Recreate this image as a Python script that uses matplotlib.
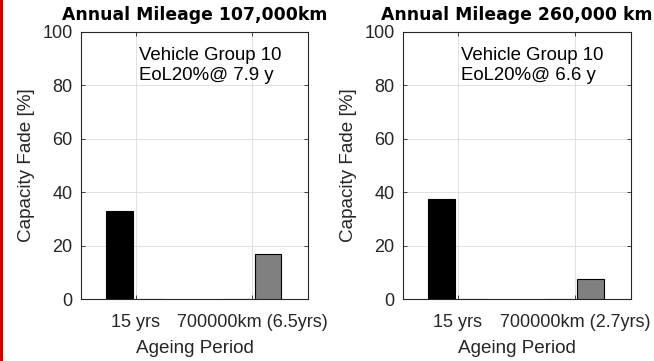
import matplotlib
matplotlib.use('Agg')
import matplotlib.pyplot as plt
from matplotlib.patches import Rectangle

# ---- data ----
titles = ['Annual Mileage 107,000km', 'Annual Mileage 260,000 km']
tick_labels = [['15 yrs', '700000km (6.5yrs)'],
               ['15 yrs', '700000km (2.7yrs)']]
fade_15yrs = [33.0, 37.4]      # black bars
fade_700k = [17.0, 7.5]        # gray bars
eol_years = [7.9, 6.6]
group_text = 'Vehicle Group 10'
x_positions = [1, 2]
y_ticks = [0, 20, 40, 60, 80, 100]

plt.rcParams['font.family'] = ['Liberation Sans', 'DejaVu Sans']
TXT = '#262626'

W, H = 654, 361
fig = plt.figure(figsize=(W / 100, H / 100), dpi=100)

# red strip at left edge
fig.patches.append(Rectangle((0, 0), 3 / W, 1, transform=fig.transFigure,
                             facecolor='#cc0000', edgecolor='none'))

axes_px = [(81, 308), (403, 631)]
top_px, bot_px = 32, 299

off = 0.137
bw = 0.23
for i, (l, r) in enumerate(axes_px):
    ax = fig.add_axes([l / W, (H - bot_px) / H, (r - l) / W, (bot_px - top_px) / H])
    s1 = [fade_15yrs[i], 0]
    s2 = [0, fade_700k[i]]
    ax.bar([x - off for x in x_positions], s1, width=bw, color='black',
           edgecolor='black', linewidth=0.8, zorder=3)
    ax.bar([x + off for x in x_positions], s2, width=bw, color='#808080',
           edgecolor='black', linewidth=0.8, zorder=3)
    ax.set_xlim(0.53, 2.48)
    ax.set_ylim(0, 100)
    ax.set_yticks(y_ticks)
    ax.set_xticks(x_positions)
    ax.set_xticklabels(tick_labels[i])
    ax.tick_params(axis='both', direction='in', length=3, width=0.6,
                   labelsize=13, colors=TXT, top=True, right=True)
    ax.tick_params(axis='x', pad=11)
    ax.tick_params(axis='y', pad=6)
    ax.grid(True, color='#dcdcdc', linewidth=0.6, zorder=0)
    ax.set_axisbelow(True)
    for sp in ax.spines.values():
        sp.set_color(TXT)
        sp.set_linewidth(0.8)
    ax.set_title(titles[i], fontsize=12.4, fontweight='bold', color='black',
                 pad=9, family='DejaVu Sans')
    ax.set_xlabel('Ageing Period', fontsize=13.6, color=TXT, labelpad=6)
    ax.set_ylabel('Capacity Fade [%]', fontsize=13.6, color=TXT, labelpad=5)
    ax.text(1.03, 89.5, group_text, fontsize=13.4, color='black',
            va='baseline', ha='left')
    ax.text(1.03, 82.0, f'EoL20%@ {eol_years[i]} y', fontsize=13.4, color='black',
            va='baseline', ha='left')

fig.savefig('out.png', dpi=100)
